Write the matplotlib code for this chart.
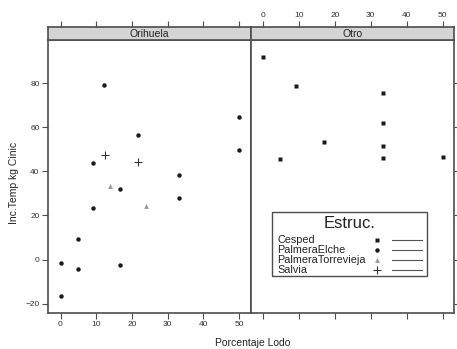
import matplotlib as mpl
from matplotlib import pyplot as plt
from matplotlib.patches import Rectangle
from matplotlib.lines import Line2D

mpl.rcParams['font.family'] = ['Liberation Sans', 'DejaVu Sans']

# Orihuela
elche_x = [12.2, 50, 21.7, 50, 9.1, 33.3, 16.7, 33.3, 9.1, 4.8, 0, 4.8, 16.7, 0]
elche_y = [79.2, 64.8, 56.6, 49.7, 43.9, 38.3, 31.8, 28.0, 23.2, 9.4, -1.8, -4.4, -2.7, -16.7]
torre_x = [13.8, 23.8]
torre_y = [33.3, 24.2]
salvia_x = [12.4, 21.7]
salvia_y = [47.3, 44.4]
# Otro
cesped_x = [0, 9.1, 33.3, 33.3, 16.9, 33.3, 4.8, 33.3, 50]
cesped_y = [92.1, 78.9, 75.6, 62.1, 53.3, 51.5, 45.5, 46.2, 46.5]

xticks = [0, 10, 20, 30, 40, 50]
yticks = [-20, 0, 20, 40, 60, 80]
xlim = (-3.5, 53.2)
ylim = (-24.3, 99.7)

W, H = 457, 349
fig = plt.figure(figsize=(W / 100, H / 100), dpi=100)
edge = '#4d4d4d'
txt = '#222222'

def px(x0, y0, x1, y1):
    return [x0 / W, 1 - y1 / H, (x1 - x0) / W, (y1 - y0) / H]

def frame(ax):
    for s in ax.spines.values():
        s.set_color(edge)
        s.set_linewidth(1.2)

ax1 = fig.add_axes(px(48, 40, 250.5, 313))
ax2 = fig.add_axes(px(250.5, 40, 454, 313))
panels = [(ax1, 'Orihuela', 48, 250.5), (ax2, 'Otro', 250.5, 454)]

for ax, name, x0, x1 in panels:
    ax.set_xlim(xlim)
    ax.set_ylim(ylim)
    ax.set_xticks(xticks)
    ax.set_yticks(yticks)
    frame(ax)
    ax.tick_params(direction='out', length=4, width=0.8, color=edge,
                   labelsize=6, labelcolor='#333333', pad=2,
                   top=False, labeltop=False)

    # strip with the panel name; top ticks sit on it
    st = fig.add_axes(px(x0, 27, x1, 40))
    st.set_xlim(xlim)
    st.set_xticks(xticks)
    st.set_yticks([])
    st.set_facecolor('#d4d4d4')
    frame(st)
    st.tick_params(axis='x', direction='out', length=4, width=0.8, color=edge,
                   labelsize=6, labelcolor='#333333', pad=2,
                   top=True, bottom=False, labelbottom=False,
                   labeltop=(ax is ax2))
    st.text(0.5, 0.45, name, transform=st.transAxes, ha='center', va='center',
            fontsize=7.5, color=txt)

ax1.tick_params(left=True, right=False, labelleft=True, labelright=False,
                bottom=True, labelbottom=True)
ax2.tick_params(left=False, right=True, labelleft=False, labelright=False,
                bottom=True, labelbottom=False)

ax1.plot(elche_x, elche_y, 'o', ms=3.2, color='#1a1a1a', mec='none')
ax1.plot(torre_x, torre_y, '^', ms=3.5, color='#999999', mec='none')
ax1.plot(salvia_x, salvia_y, '+', ms=6, color='#333333', mew=0.8)
ax2.plot(cesped_x, cesped_y, 's', ms=3.0, color='#1a1a1a', mec='none')

fig.text(253 / W, 1 - 343 / H, 'Porcentaje Lodo', ha='center', va='center',
         fontsize=7.5, color=txt)
fig.text(14 / W, 1 - 183 / H, 'Inc.Temp kg Cinic', ha='center', va='center',
         rotation=90, fontsize=7.5, color=txt)

# legend box
fig.patches.append(Rectangle((271.7 / W, 1 - 276 / H), (427.3 - 271.7) / W, (276 - 211.7) / H,
                             transform=fig.transFigure, fill=False, ec=edge, lw=1.0))
fig.text(349.5 / W, 1 - 223.5 / H, 'Estruc.', ha='center', va='center', fontsize=12, color=txt)
entries = [('Cesped', 's', '#1a1a1a', 3.0),
           ('PalmeraElche', 'o', '#1a1a1a', 3.2),
           ('PalmeraTorrevieja', '^', '#999999', 3.5),
           ('Salvia', '+', '#333333', 5.5)]
for i, (lab, m, c, ms) in enumerate(entries):
    yy = 1 - (240 + 10 * i) / H
    fig.text(277 / W, yy, lab, ha='left', va='center', fontsize=7.8, color=txt)
    fig.add_artist(Line2D([377.3 / W], [yy], marker=m, ms=ms, color=c,
                          mec=c if m == '+' else 'none', mew=0.8,
                          transform=fig.transFigure, ls='none'))
    fig.add_artist(Line2D([391.7 / W, 421.7 / W], [yy, yy], color='#555555', lw=0.8,
                          transform=fig.transFigure))

fig.savefig('out.png', dpi=100)
